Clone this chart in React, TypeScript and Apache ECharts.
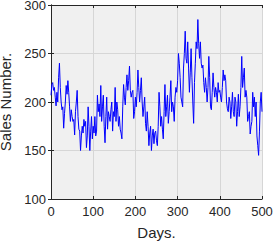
import React, { useEffect, useRef } from "react";
import * as echarts from "echarts";

const xTicks = [0, 100, 200, 300, 400, 500];
const yTicks = [100, 150, 200, 250, 300];
const dayStep = 2;
const sales = [
  207, 218, 220, 212, 215, 205, 196, 210, 200, 225,
  240, 215, 200, 192, 195, 173, 188, 200, 217, 208,
  222, 210, 195, 180, 192, 185, 180, 182, 166, 190,
  200, 212, 185, 172, 170, 150, 165, 175, 168, 182,
  175, 180, 153, 165, 195, 175, 150, 170, 185, 162,
  175, 168, 185, 165, 170, 207, 190, 198, 185, 217,
  180, 195, 207, 175, 158, 185, 205, 172, 190, 185,
  180, 192, 200, 170, 190, 185, 215, 180, 200, 192,
  175, 185, 172, 168, 162, 195, 218, 205, 197, 215,
  228, 212, 222, 237, 212, 205, 210, 212, 183, 190,
  205, 195, 210, 233, 215, 200, 212, 225, 200, 185,
  195, 205, 178, 170, 190, 175, 155, 168, 175, 150,
  165, 172, 157, 168, 170, 160, 155, 175, 210, 195,
  175, 185, 172, 162, 190, 218, 185, 195, 207, 178,
  190, 205, 222, 190, 200, 195, 180, 205, 215, 210,
  222, 250, 240, 225, 205, 200, 195, 235, 250, 273,
  245, 240, 262, 235, 210, 230, 255, 225, 200, 178,
  220, 240, 262, 255, 285, 260, 245, 262, 240, 235,
  238, 220, 210, 225, 215, 200, 215, 247, 225, 195,
  192, 210, 230, 215, 205, 215, 210, 200, 220, 210,
  212, 205, 200, 215, 233, 222, 228, 222, 200, 193,
  190, 205, 200, 183, 195, 210, 190, 185, 205, 200,
  175, 190, 208, 185, 195, 215, 247, 215, 225, 235,
  205, 212, 205, 180, 185, 190, 167, 175, 180, 210,
  195, 205, 185, 200, 165, 155, 145, 170, 200, 210,
  190,
];

const FONT = "'Liberation Sans', Arial, Helvetica, sans-serif";
const INK = "#262626";

export default function App() {
  const ref = useRef<HTMLDivElement>(null);
  useEffect(() => {
    document.body.style.margin = "0";
    if (!ref.current) return;
    const chart = echarts.init(ref.current, null, { renderer: "svg" });
    const data = sales.map((v, i) => [i * dayStep, v]);
    const axisCommon = {
      axisLine: { show: true, lineStyle: { color: INK, width: 1 } },
      axisTick: { show: true, inside: true, length: 3, lineStyle: { color: INK } },
    };
    chart.setOption({
      animation: false,
      backgroundColor: "#ffffff",
      grid: {
        left: 51,
        right: 13,
        top: 5,
        bottom: 46,
        show: true,
        backgroundColor: "#f0f0f0",
        borderWidth: 0,
        containLabel: false,
        outerBoundsMode: "none",
      },
      xAxis: [
        {
          type: "value",
          min: xTicks[0],
          max: xTicks[xTicks.length - 1],
          interval: 100,
          name: "Days.",
          nameLocation: "middle",
          nameGap: 26,
          nameTextStyle: { color: INK, fontSize: 15, fontFamily: FONT },
          ...axisCommon,
          axisLabel: { color: INK, fontSize: 13, fontFamily: FONT, margin: 6 },
          splitLine: { show: true, lineStyle: { color: "#d6d6d6", width: 1 } },
        },
        {
          type: "value",
          position: "top",
          min: xTicks[0],
          max: xTicks[xTicks.length - 1],
          interval: 100,
          ...axisCommon,
          axisLabel: { show: false },
          splitLine: { show: false },
        },
      ],
      yAxis: [
        {
          type: "value",
          min: yTicks[0],
          max: yTicks[yTicks.length - 1],
          interval: 50,
          name: "Sales Number.",
          nameLocation: "middle",
          nameGap: 31,
          nameTextStyle: { color: INK, fontSize: 15, lineHeight: 15, fontFamily: FONT },
          ...axisCommon,
          axisLabel: { color: INK, fontSize: 13, lineHeight: 10, fontFamily: FONT, margin: 5 },
          splitLine: { show: true, lineStyle: { color: "#d6d6d6", width: 1 } },
        },
        {
          type: "value",
          position: "right",
          min: yTicks[0],
          max: yTicks[yTicks.length - 1],
          interval: 50,
          ...axisCommon,
          axisLabel: { show: false },
          splitLine: { show: false },
        },
      ],
      series: [
        {
          type: "line",
          data,
          xAxisIndex: 0,
          yAxisIndex: 0,
          showSymbol: false,
          symbol: "none",
          lineStyle: { color: "#0000ff", width: 1 },
        },
      ],
    });
    return () => chart.dispose();
  }, []);
  return <div ref={ref} style={{ width: 275, height: 245 }} />;
}
